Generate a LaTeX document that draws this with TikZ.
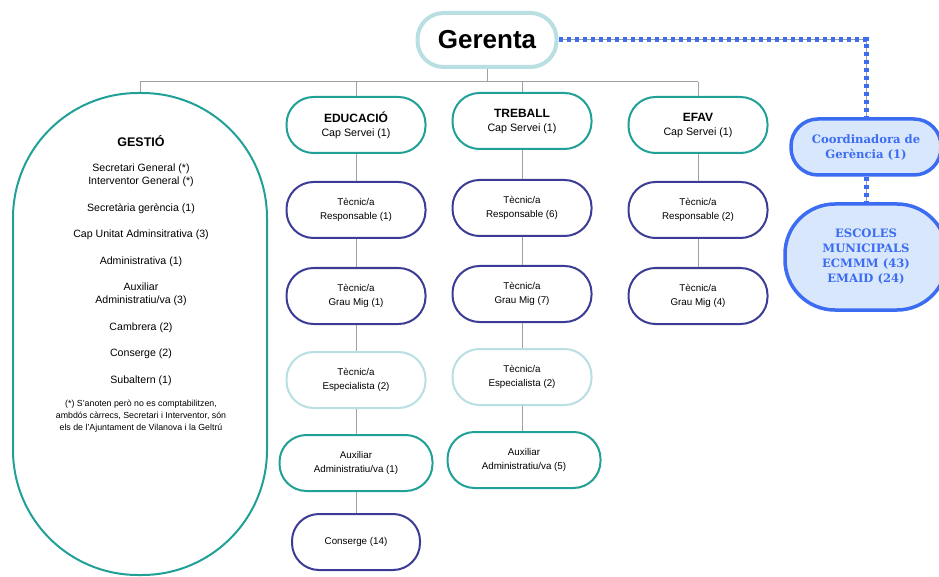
\documentclass[tikz,border=0pt]{standalone}
\usepackage{fontspec}
\setmainfont{Liberation Sans}
\newfontfamily\coordfont{DejaVu Serif}
\usetikzlibrary{calc}

\definecolor{tealline}{HTML}{20A096}
\definecolor{indigoline}{HTML}{3C3C96}
\definecolor{paleline}{HTML}{BADFE3}
\definecolor{coordblue}{HTML}{3B6CF2}
\definecolor{coordfill}{HTML}{D8E7FC}
\definecolor{linkgrey}{HTML}{A0A0A0}

\begin{document}
\begin{tikzpicture}[x=1pt, y=-1pt,
    pill/.style={rectangle, rounded corners=27pt, minimum width=139pt, minimum height=56pt, line width=2pt, align=center, fill=white},
    headbox/.style={pill, draw=tealline, font=\fontsize{10.7}{14}\selectfont},
    techbox/.style={pill, draw=indigoline, font=\fontsize{9.8}{13.5}\selectfont},
    specbox/.style={techbox, draw=paleline},
    auxbox/.style={techbox, draw=tealline, minimum width=153pt},
    coordbox/.style={rectangle, draw=coordblue, fill=coordfill, line width=3.5pt, text=coordblue, align=center, font=\coordfont\bfseries\fontsize{11.6}{15}\selectfont},
    link/.style={draw=linkgrey, line width=1pt},
    dotlink/.style={draw=coordblue, line width=5pt, dash pattern=on 4pt off 4pt}
  ]
  \useasboundingbox (0,0) rectangle (939,577);

  % top
  \node[rectangle, draw=paleline, line width=4pt, rounded corners=26pt, minimum width=139pt, minimum height=54pt, fill=white, font=\bfseries\fontsize{26}{30}\selectfont] (gerenta) at (487,40) {Gerenta};

  % gestio
  \node[rectangle, draw=tealline, line width=2pt, rounded corners=125pt, minimum width=254pt, minimum height=482pt] (gestio) at (140,334) {};
  \node[font=\bfseries\fontsize{12.5}{14}\selectfont] (gestiotitle) at (141,141) {GESTIÓ};
  \node[anchor=north, inner sep=0pt, align=center, font=\fontsize{10.6}{13}\selectfont] (gestiolist) at (141,164) {Secretari General (*)\\ Interventor General (*)\\[13.5pt]
    Secretària gerència (1)\\[13.5pt] Cap Unitat Adminsitrativa (3)\\[13.5pt] Administrativa (1)\\[13.5pt]
    Auxiliar\\ Administratiu/va (3)\\[13.5pt] Cambrera (2)\\[13.5pt] Conserge (2)\\[13.5pt] Subaltern (1)};
  \node[anchor=north, inner sep=0pt, align=center, font=\fontsize{8.8}{12}\selectfont] (gestionote) at (141,400) {(*) S'anoten però no es comptabilitzen,\\ ambdós càrrecs, Secretari i Interventor, són\\ els de l'Ajuntament de Vilanova i la Geltrú};

  % educacio
  \node[headbox] (educacio) at (356,125) {\textbf{\fontsize{12}{14}\selectfont EDUCACIÓ}\\ Cap Servei (1)};
  \node[techbox] (edresp) at (356,210) {Tècnic/a\\ Responsable (1)};
  \node[techbox] (edgrau) at (356,296) {Tècnic/a\\ Grau Mig (1)};
  \node[specbox] (edespec) at (356,380) {Tècnic/a\\ Especialista (2)};
  \node[auxbox] (edaux) at (356,463) {Auxiliar\\ Administratiu/va (1)};
  \node[techbox, minimum width=128pt] (edconserge) at (356,542) {Conserge (14)};

  % treball
  \node[headbox] (treball) at (522,121) {\textbf{\fontsize{12}{14}\selectfont TREBALL}\\ Cap Servei (1)};
  \node[techbox] (trresp) at (522,208) {Tècnic/a\\ Responsable (6)};
  \node[techbox] (trgrau) at (522,294) {Tècnic/a\\ Grau Mig (7)};
  \node[specbox] (trespec) at (522,377) {Tècnic/a\\ Especialista (2)};
  \node[auxbox] (traux) at (524,460) {Auxiliar\\ Administratiu/va (5)};

  % efav
  \node[headbox] (efav) at (698,125) {\textbf{\fontsize{12}{14}\selectfont EFAV}\\ Cap Servei (1)};
  \node[techbox] (efresp) at (698,210) {Tècnic/a\\ Responsable (2)};
  \node[techbox] (efgrau) at (698,296) {Tècnic/a\\ Grau Mig (4)};

  % escoles
  \node[coordbox, rounded corners=27pt, minimum width=150pt, minimum height=56pt] (coord) at (866,147) {Coordinadora de\\ Gerència (1)};
  \node[coordbox, rounded corners=50pt, minimum width=162pt, minimum height=106pt] (escoles) at (866,257) {ESCOLES\\ MUNICIPALS\\ ECMMM (43)\\ EMAID (24)};

  % connectors
  \coordinate (bar) at (487,82);
  \draw[link] (gerenta.south) -- (bar);
  \draw[link] (gestio.north |- bar) -- (efav.north |- bar);
  \foreach \n in {gestio, educacio, treball, efav}
    \draw[link] (\n.north |- bar) -- (\n.north);
  \foreach \a/\b in {educacio/edresp, edresp/edgrau, edgrau/edespec, edespec/edaux, edaux/edconserge,
      treball/trresp, trresp/trgrau, trgrau/trespec, trespec/traux, efav/efresp, efresp/efgrau}
    \draw[link] (\a.south) -- (\a.south |- \b.north);

  \coordinate (corner) at (coord.north |- gerenta.east);
  \draw[link] (gerenta.east) -- (corner) -- (coord.north);
  \draw[dotlink] (gerenta.east) -- (corner) -- (coord.north);
  \draw[link] (coord.south) -- (escoles.north);
  \draw[dotlink] (coord.south) -- (escoles.north);
\end{tikzpicture}
\end{document}
